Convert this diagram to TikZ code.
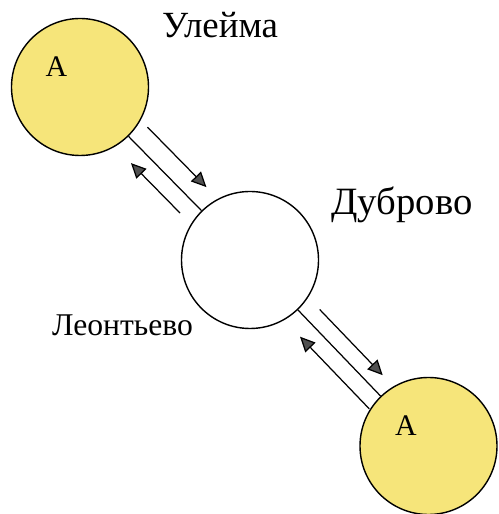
\documentclass[tikz,border=0pt]{standalone}
\usepackage{fontspec}
\setmainfont{Liberation Serif}
\usetikzlibrary{arrows.meta, calc}
\definecolor{myyellow}{RGB}{246,229,122}
\definecolor{mygray}{RGB}{80,80,80}

\begin{document}
\begin{tikzpicture}[
    village/.style={draw,circle,line width=0.8pt,minimum size=2.74cm,inner sep=0pt},
    link/.style={line width=0.7pt},
    flow/.style={line width=0.7pt,-{Triangle[length=3mm,width=2.8mm,fill=mygray]}},
    place/.style={anchor=base,font=\fontsize{21}{24}\selectfont}
]
    \useasboundingbox (0,0) rectangle (9.96,10.28);

    % villages
    \node[village,fill=myyellow] (ul) at (1.6,8.54) {};
    \node[village,fill=white] (dub) at (5.0,5.08) {};
    \node[village,fill=myyellow] (bot) at (8.57,1.36) {};

    % letters in the circles
    \node[anchor=base,font=\fontsize{17}{20}\selectfont] (ula) at (1.13,8.74) {А};
    \node[anchor=base,font=\fontsize{17}{20}\selectfont] (bota) at (8.12,1.56) {А};

    % names
    \node[place] (ulname) at (4.40,9.52) {Улейма};
    \node[place,font=\fontsize{22}{26}\selectfont] (dubname) at (8.04,5.98) {Дуброво};
    \node[place,font=\fontsize{18}{22}\selectfont] (leoname) at (2.45,3.56) {Леонтьево};

    % links
    \draw[link] (ul) -- (dub);
    \draw[link] (dub) -- (bot);

    % flows Улейма - Дуброво
    \draw[flow] ($(ul)!1.52cm!(dub)!0.4cm!90:(dub)$) -- ($(ul)!3.2cm!(dub)!0.4cm!90:(dub)$);
    \draw[flow] ($(ul)!3.2cm!(dub)!0.34cm!-90:(dub)$) -- ($(ul)!1.8cm!(dub)!0.34cm!-90:(dub)$);

    % flows Дуброво - bottom
    \draw[flow] ($(dub)!1.68cm!(bot)!0.32cm!90:(bot)$) -- ($(dub)!3.5cm!(bot)!0.32cm!90:(bot)$);
    \draw[flow] ($(dub)!3.8cm!(bot)!0.34cm!-90:(bot)$) -- ($(dub)!1.8cm!(bot)!0.34cm!-90:(bot)$);
\end{tikzpicture}
\end{document}
